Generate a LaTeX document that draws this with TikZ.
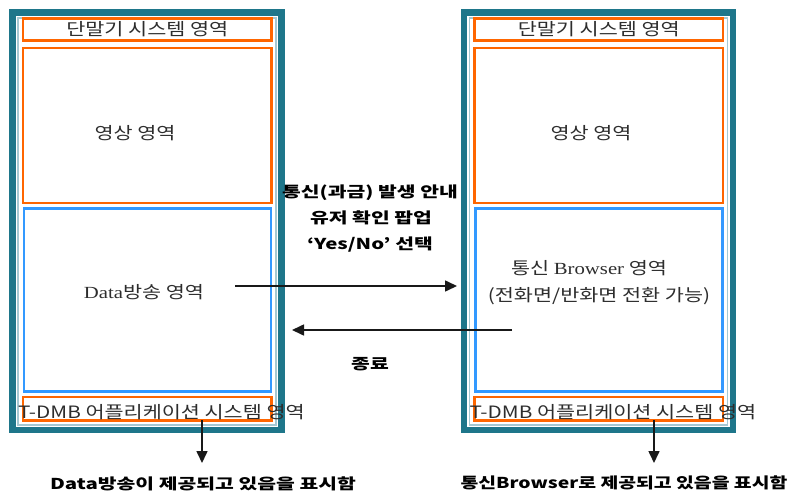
\documentclass[tikz,border=0pt]{standalone}
\usepackage{fontspec}
\usepackage{graphicx}
\setmainfont{Noto Sans CJK KR}
\newfontfamily\ser{Liberation Serif}
\usetikzlibrary{arrows.meta}
\definecolor{tealA}{RGB}{30,118,138}
\definecolor{liteA}{RGB}{165,200,210}
\definecolor{orgA}{RGB}{255,102,0}
\definecolor{bluA}{RGB}{51,153,255}
\definecolor{txtA}{RGB}{45,45,45}
\newcommand{\hsA}[1]{\scalebox{1.22}[1]{#1}}
\newcommand{\hsB}[1]{\scalebox{1.36}[1]{#1}}
\newcommand{\hsC}[1]{\scalebox{1.29}[1]{#1}}
\begin{document}
\begin{tikzpicture}[x=1pt,y=-1pt,
  frame/.style={draw=tealA, line width=6.5pt, minimum width=269pt, minimum height=417.5pt, inner sep=0pt},
  inframe/.style={draw=liteA, line width=1.8pt, minimum width=258pt, minimum height=407pt, inner sep=0pt},
  obox/.style={draw=orgA, line width=2.5pt, minimum width=248.5pt, inner sep=0pt},
  bbox/.style={draw=bluA, line width=2.5pt, minimum width=247pt, minimum height=183pt, inner sep=0pt},
  lbl/.style={font=\fontsize{17}{20}\selectfont, text=txtA, inner sep=0pt},
  blbl/.style={font=\fontsize{15}{18}\selectfont\bfseries, text=black, inner sep=0pt},
  arr/.style={-{Triangle[length=12pt,width=11pt]}, line width=1.6pt, draw=black!90}
]
\useasboundingbox (0,0) rectangle (794,495);
% ---------- left device ----------
\node[frame] (lframe) at (147,221.25) {};
\node[inframe] (linner) at (147,221.5) {};
\node[obox, minimum height=22pt, lbl] (ltop) at (147.25,29.5) {\hsA{단말기 시스템 영역}};
\node[obox, minimum height=155pt] (lvid) at (147.25,125.5) {};
\node[bbox] (ldata) at (147.5,300) {};
\node[obox, minimum height=23.5pt] (lbot) at (147.25,408.75) {};
\node[lbl] (lvidt) at (135,133) {\hsA{영상 영역}};
\node[lbl] (ldatat) at (144,292) {\hsA{{\ser Data}방송 영역}};
\node[lbl, anchor=west] (lbott) at (18,412) {\hsA{T-DMB 어플리케이션 시스템 영역}};
% ---------- right device ----------
\node[frame] (rframe) at (598.5,221.25) {};
\node[inframe] (rinner) at (598.5,221.5) {};
\node[obox, minimum height=22pt, lbl] (rtop) at (598.75,29.5) {\hsA{단말기 시스템 영역}};
\node[obox, minimum height=155pt] (rvid) at (598.75,125.5) {};
\node[bbox] (rdata) at (599,300) {};
\node[obox, minimum height=23.5pt] (rbot) at (598.75,408.75) {};
\node[lbl] (rvidt) at (591,133) {\hsA{영상 영역}};
\node[lbl] (rbrw1) at (589,268) {\hsA{통신 {\ser Browser} 영역}};
\node[lbl] (rbrw2) at (599,296) {\hsA{(전화면/반화면 전환 가능)}};
\node[lbl, anchor=west] (rbott) at (469.5,412) {\hsA{T-DMB 어플리케이션 시스템 영역}};
% ---------- middle ----------
\node[blbl] (m1) at (370,193) {\hsB{통신(과금) 발생 안내}};
\node[blbl] (m2) at (371,218) {\hsB{유저 확인 팝업}};
\node[blbl] (m3) at (370,245) {\hsB{‘Yes/No’ 선택}};
\node[blbl] (m4) at (370,364) {\hsB{종료}};
\coordinate (a1s) at (235,286);
\coordinate (a1e) at (457,286);
\coordinate (a2s) at (512,330);
\coordinate (a2e) at (292,330);
\draw[arr] (a1s) -- (a1e);
\draw[arr] (a2s) -- (a2e);
% ---------- bottom notes ----------
\node[blbl] (lnote) at (203,484) {\hsB{Data방송이 제공되고 있음을 표시함}};
\node[blbl] (rnote) at (624,483) {\hsC{통신Browser로 제공되고 있음을 표시함}};
\coordinate (ld) at (202,420);
\coordinate (ldE) at (202,463);
\coordinate (rd) at (654,420);
\coordinate (rdE) at (654,463);
\draw[arr] (ld) -- (ldE);
\draw[arr] (rd) -- (rdE);
\end{tikzpicture}
\end{document}
